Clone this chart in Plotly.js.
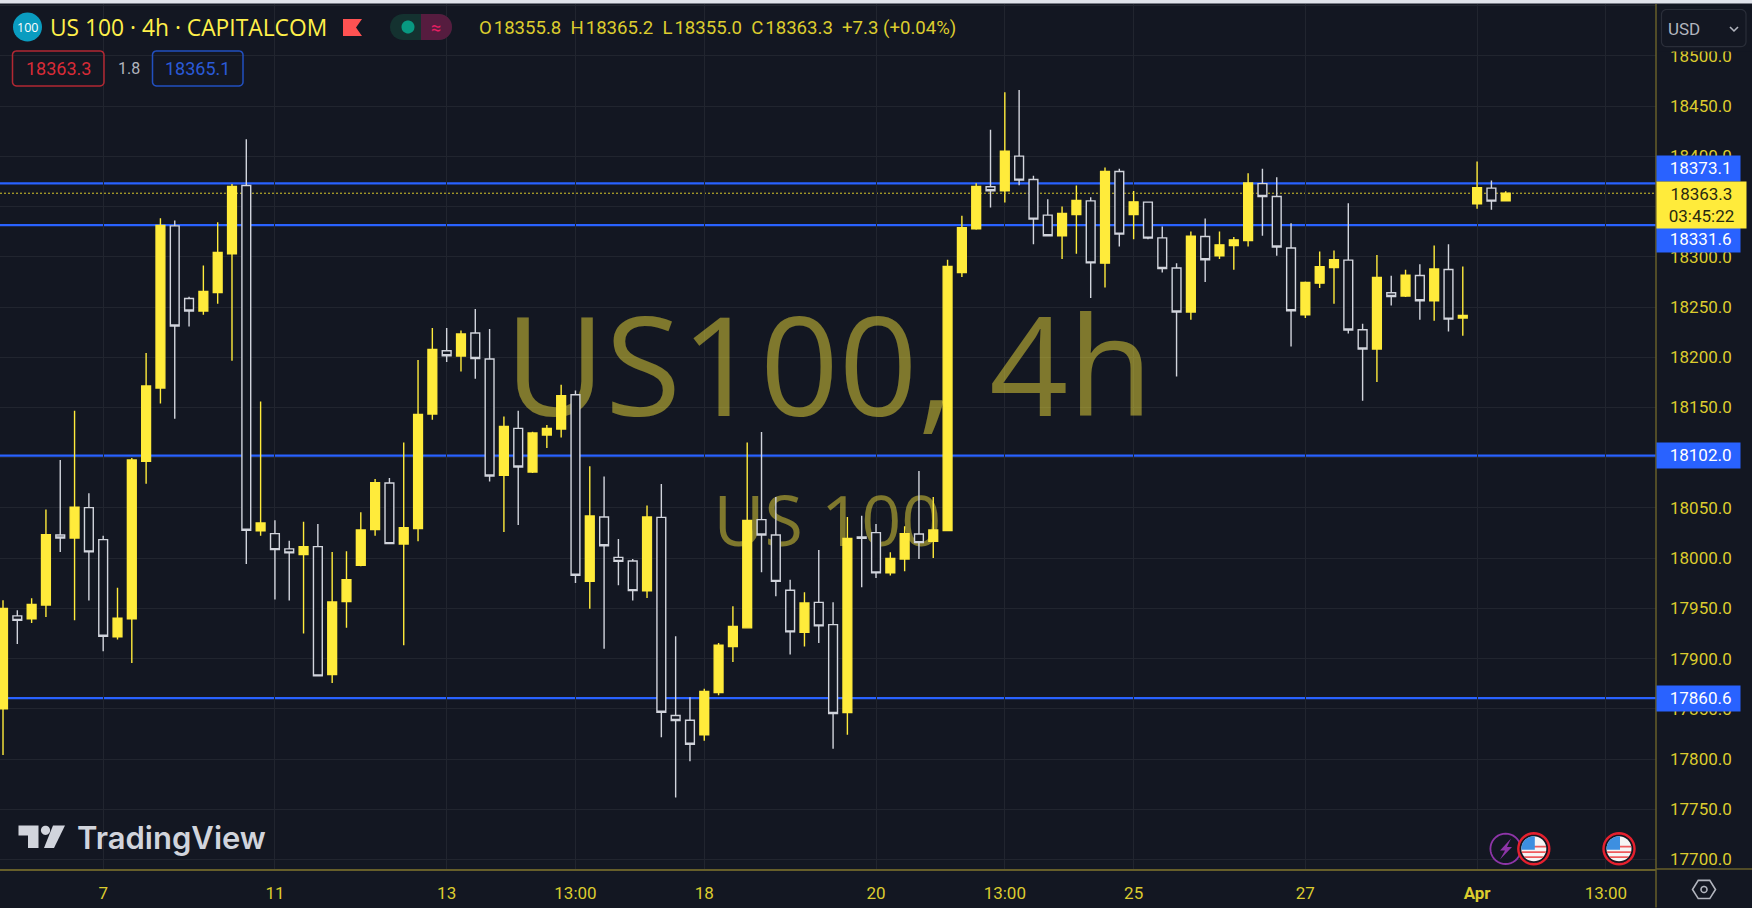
<!DOCTYPE html>
<html><head><meta charset="utf-8">
<script src="https://cdn.plot.ly/plotly-3.0.1.min.js"></script>
<style>html,body{margin:0;padding:0;background:#131722;overflow:hidden}#c{width:1752px;height:908px}</style>
</head><body><div id="c"></div>
<script>
const opens=[17850,17942.5,17939.5,17953.4,18023.1,18020.1,18050.3,18018.4,17921.6,17939.5,18096.3,18169.4,18330.8,18258.5,18246,18264.5,18303,18371,18027.1,18024.4,18009.2,18003.5,18011.5,17884.1,17956.7,17992.8,18028.4,18074.8,18014.1,18029.4,18143.5,18206.5,18201.2,18224.1,18198.2,18082.4,18129.2,18085.8,18122.6,18128.6,18162.7,17976.9,18041,18000.8,17997.2,17967.4,18040.6,17843.3,17838.6,17824.1,17866.2,17912,17930.6,18038.3,18023.1,17968,17926.2,17956,17933.8,17846.3,18021.1,18025.4,17985.3,17999.2,18024.1,18016.7,18027.4,18284.4,18327.9,18369.7,18365.7,18400.2,18376.9,18341.5,18320.9,18342.1,18355.7,18293.7,18384.9,18342.1,18354.4,18318.9,18288.8,18245,18320.2,18301,18311.2,18316.2,18372.9,18360,18308.7,18242.3,18273.8,18289.4,18296.7,18227.4,18208.2,18264.2,18260.9,18281.4,18256.2,18287.4,18239,18352.7,18368.4,18355.8];
const highs=[17958,17948,17960,18048.3,18097.7,18146.8,18064.5,18022.4,17970.4,18099.7,18204.2,18338.5,18336.1,18260.2,18291.3,18334.5,18372.6,18417.1,18156,18037.6,18017.4,18036.3,18034,18006.2,18006.8,18045.6,18078.8,18079.8,18115.2,18197.2,18229.1,18229.1,18226.7,18248,18228.1,18141.1,18146.8,18125.9,18132.5,18172.6,18167,18091.4,18081.4,18019.1,17999.2,18052.5,18073.8,17922.2,17861.5,17869.9,17915.6,17952.1,18115.2,18125.6,18060.9,17978.6,17966,18008.2,17956,18041,18042.3,18034,18005.8,18031.7,18086.8,18060.9,18297,18340.8,18373.3,18426.4,18463.9,18466.2,18380.6,18357.4,18350.1,18371,18359.4,18388.9,18387.6,18365.4,18354.7,18330.2,18293.7,18325.2,18338.1,18325.2,18319.6,18383.3,18387.6,18379.3,18333.5,18275.4,18305.3,18306.3,18353.4,18233.3,18301.7,18281.1,18287.1,18292.7,18311.2,18312.6,18290.4,18394.8,18375.9,18365.2];
const lows=[17804,17914.6,17935.5,17941.5,18006.2,17938.1,17957.7,17907.3,17918.9,17895.7,18074.1,18154,18138.8,18230.7,18242.3,18253.2,18196.5,17994.2,18022.4,17958.7,17957.7,17924.9,17882.8,17875.8,17930.6,17991.8,18022.4,18014.4,17913.2,18016.7,18137.8,18195.2,18185.9,18178.6,18076.4,18026.1,18033,18084.8,18109.7,18120.2,17975.3,17949.5,17909.7,17973,17957.7,17960.4,17821.7,17761.7,17797.8,17818.1,17863.5,17896.7,17930,17985.9,17962,17904,17912,17915.6,17810.2,17824.1,17971,17980.3,17982.6,17986.9,17999.2,18000.2,18027,18279.8,18327,18349.1,18354,18371.3,18312.6,18320.5,18297.7,18303,18258.9,18269.5,18310.3,18317.6,18317.6,18284.4,18180.9,18237.3,18274.8,18297.7,18287.1,18310.3,18320.9,18301,18210.8,18239,18268.9,18253.2,18223.7,18156.7,18175.3,18251.5,18260,18237.3,18236.3,18225.7,18221.4,18347.8,18346.8,18355];
const closes=[17950,17938,17954,18023.4,18020.1,18050.6,18006.2,17922.2,17940.1,18097.7,18171.4,18331.1,18231.1,18246,18265.5,18304.3,18370,18027.7,18035,18008.5,18005.2,18011.5,17882.8,17956.4,17978.6,18028.1,18075.1,18014.4,18030.4,18143.1,18207.8,18201.5,18223.1,18198.8,18081.8,18131.2,18090.8,18124.6,18129.2,18161.7,17982.9,18042,18012.4,17996.8,17967.7,18041,17846.6,17838.3,17814.7,17867.2,17913.2,17931.9,18037.6,18023.1,17976.9,17926.6,17955.4,17932.6,17845.3,18019.7,18019.7,17985.3,17999.8,18024.4,18015.4,18028.1,18290.4,18328.9,18370,18365.7,18405.2,18376.3,18337.5,18320.9,18343.1,18356,18294,18384.9,18322.6,18354.7,18318.6,18288.4,18245,18320.6,18297,18311.9,18316.9,18373.6,18360,18309.7,18246.3,18274.4,18290.1,18297,18227.1,18208.2,18279.4,18260.5,18281.8,18256.2,18287.8,18238,18241.6,18368.7,18355.4,18363.3];
const candleIndex=opens.map((_,i)=>i);
const xTickIndex=[7,19,31,40,49,61,70,79,91,103,112];
const xTickLabels=['7','11','13','13:00','18','20','13:00','25','27','<b>Apr</b>','13:00'];
const levelPrices=[18373.1,18331.6,18102.0,17860.6];
const lastPrice=18363.3;
const countdown='03:45:22';
const bidPrice='18363.3', askPrice='18365.1', spread='1.8';
const ohlcText='O\u200a18355.8  H\u200a18365.2  L\u200a18355.0  C\u200a18363.3  +7.3 (+0.04%)';

const W=1752,H=908,L=0,R=1656,T=4,B=869.5;
const X=p=>(p-L)/(R-L), Y=p=>1-(p-T)/(B-T);
const FONT='Roboto, sans-serif';
const BG='#131722', TICK='#dccc2e', AXIS='#675f2a', BLUE='#2962ff', YEL='#ffeb3b';
const xr=[-0.21,115.5], yr=[17690.5,18551.7];

function poly(pts,close=true){return 'M'+pts.map(p=>X(p[0]).toFixed(5)+','+Y(p[1]).toFixed(5)).join('L')+(close?'Z':'');}
function circ(cx,cy,r,a0=0,a1=360){const o=[];for(let a=a0;a<=a1;a+=10){const t=a*Math.PI/180;o.push([cx+r*Math.cos(t),cy+r*Math.sin(t)]);}return o;}
function rrect(x0,y0,x1,y1,r){const o=[];const c=[[x1-r,y0+r,-90],[x1-r,y1-r,0],[x0+r,y1-r,90],[x0+r,y0+r,180]];c.forEach(k=>{for(let a=0;a<=90;a+=15){const t=(k[2]+a)*Math.PI/180;o.push([k[0]+r*Math.cos(t),k[1]+r*Math.sin(t)]);}});return o;}
const sh=(path,fill,line,w)=>({type:'path',xref:'paper',yref:'paper',path,fillcolor:fill||'rgba(0,0,0,0)',line:{color:line||'rgba(0,0,0,0)',width:w||0},layer:'above'});
const hl=(x0,y0,x1,y1,c,w)=>({type:'line',xref:'paper',yref:'paper',x0:X(x0),x1:X(x1),y0:Y(y0),y1:Y(y1),line:{color:c,width:w||1},layer:'above'});
const rect=(x0,y0,x1,y1,c)=>({type:'rect',xref:'paper',yref:'paper',x0:X(x0),x1:X(x1),y0:Y(y0),y1:Y(y1),fillcolor:c,line:{width:0},layer:'above'});

const shapes=[];
levelPrices.forEach(p=>shapes.push({type:'line',xref:'x2',yref:'y2',x0:xr[0],x1:xr[1],y0:p,y1:p,line:{color:BLUE,width:2.2},layer:'below'}));
shapes.push({type:'line',xref:'x2',yref:'y2',x0:xr[0],x1:xr[1],y0:lastPrice,y1:lastPrice,line:{color:'#d6c62c',width:1,dash:'2px,2px'},layer:'below'});
shapes.push(rect(0,0,W,3.5,'#e0e3eb'));
shapes.push(hl(R,B,W,B,AXIS,1.5));
shapes.push(hl(R,T,R,H,AXIS,1.5));
// symbol logo, flag, pill
shapes.push(sh(poly(circ(27.5,27,14.5)),'#0a9cc0'));
shapes.push(sh(poly([[343,19],[362,19],[356,27.5],[362,36],[343,36]]),'#ff5252'));
shapes.push(sh(poly(rrect(390,14,452,40,13)),'#143230'));
shapes.push(sh(poly([[421,14],[439,14]].concat(circ(439,27,13,-90,90)).concat([[421,40]])),'#561c3f'));
shapes.push(sh(poly(circ(408,27,6.5)),'#089981'));
// bid/ask boxes
shapes.push(sh(poly(rrect(12.5,51,104,86,4)),'rgba(0,0,0,0)','#b22833',1.5));
shapes.push(sh(poly(rrect(152.5,51,243,86,4)),'rgba(0,0,0,0)','#2250c0',1.5));
// USD box
shapes.push(rect(R+1,T,W,51.5,BG));
shapes.push(sh(poly(rrect(1661.5,9.5,1746,46.7,5)),BG,'#2a2e39',1.2));
shapes.push(sh(poly([[1730,27],[1734,31],[1738,27]],false),null,'#b2b5be',1.6));
// TradingView mark
shapes.push(sh(poly([[18.5,826],[38.5,826],[38.5,848.5],[28,848.5],[28,836],[18.5,836]]),'#d1d4dc'));
shapes.push(sh(poly(circ(45.5,830.8,4.6)),'#d1d4dc'));
shapes.push(sh(poly([[53,826],[65,826],[54,848.5],[44,848.5]]),'#d1d4dc'));
// event icons
function flag(cx,cy){
  shapes.push(sh(poly(circ(cx,cy,15.5)),BG,'#e5202e',2.4));
  shapes.push(sh(poly(circ(cx,cy,12.5)),'#f5f5f5'));
  [[-3,1.6],[2.5,1.8],[7.5,1.6]].forEach(s=>{const y0=s[0],y1=s[0]+s[1];const w0=Math.sqrt(156-y0*y0),w1=Math.sqrt(156-y1*y1);
    const full=y0>=1;
    shapes.push(sh(poly([[cx+(full?-w0:0),cy+y0],[cx+w0,cy+y0],[cx+w1,cy+y1],[cx+(full?-w1:0),cy+y1]]),'#ee5a5c'));});
  shapes.push(sh(poly(circ(cx,cy,12.5,180,270).concat([[cx+1,cy-12.4],[cx+1,cy+1],[cx-12.4,cy+1]])),'#3d8fe0'));
}
shapes.push(sh(poly(circ(1505.6,849.3,15.2)),BG,'#8e35a8',1.8));
shapes.push(sh(poly([[1511,839],[1500,851],[1505,851],[1500,860],[1512,847.5],[1507,847.5]]),'#8e35a8'));
flag(1533.8,849.3); flag(1619,849.3);
// gear
const hex=[];for(let a=0;a<360;a+=60){const t=a*Math.PI/180;hex.push([1704+11.5*Math.cos(t),890+10.5*Math.sin(t)]);}
shapes.push(sh(poly(hex),null,'#b2b5be',1.6));
shapes.push(sh(poly(circ(1704,890,3)),null,'#b2b5be',1.5));

const priceLabel=(txt,y,shift)=>({xref:'paper',yref:'y',x:1,y,yshift:shift,xanchor:'left',yanchor:'middle',text:'\u00a0'+txt,showarrow:false,
  bgcolor:BLUE,width:83,height:24.5,align:'center',borderpad:0,font:{family:FONT,size:17,color:'#ffffff'}});
const paperText=(txt,px,py,size,color,anchor,family,extra)=>Object.assign({xref:'paper',yref:'paper',x:X(px),y:Y(py),xanchor:anchor||'left',yanchor:'middle',text:txt,showarrow:false,font:{family:family||FONT,size,color}},extra||{});

const annotations=[
  priceLabel(levelPrices[0].toFixed(1),levelPrices[0],15.2),
  priceLabel(levelPrices[1].toFixed(1),levelPrices[1],-14.3),
  priceLabel(levelPrices[2].toFixed(1),levelPrices[2],0),
  priceLabel(levelPrices[3].toFixed(1),levelPrices[3],0),
  {xref:'paper',yref:'y',x:1,y:lastPrice,yshift:-11.3,xanchor:'left',yanchor:'middle',text:lastPrice.toFixed(1)+'<br>'+countdown,showarrow:false,
   bgcolor:YEL,width:89,height:46,align:'center',borderpad:0,font:{family:FONT,size:17,color:'#2a2a10'}},
  paperText('100',27.5,27.5,12.5,'#ffffff','center','"Open Sans", sans-serif'),
  paperText('US 100 · 4h · CAPITALCOM',48,27.5,22.8,'#fff04a','left','"Open Sans", sans-serif'),
  paperText('≈',436,27.5,18,'#e91e63','center'),
  paperText(ohlcText,477,28,18.6,TICK,'left'),
  paperText(bidPrice,58,69,18,'#d92b37','center'),
  paperText(spread,129,69,16,'#b2b5be','center'),
  paperText(askPrice,197.5,69,18,'#2a5ad8','center'),
  paperText('USD',1684,29,17,'#b2b5be','center'),
  paperText('TradingView',75,838,31,'#d1d4dc','left','Inter, sans-serif',undefined),
];
annotations[annotations.length-1].font.weight=600;

const watermark={type:'scatter',mode:'text',x:[57.7,57.6],y:[18176,18030],text:['US100, 4h','US 100'],
  textposition:'middle center',hoverinfo:'skip',cliponaxis:false,showlegend:false,
  textfont:{family:'"Open Sans", sans-serif',size:[138,70],color:'rgba(255,235,59,0.46)'},xaxis:'x',yaxis:'y'};
const candles={type:'candlestick',x:candleIndex,open:opens,high:highs,low:lows,close:closes,xaxis:'x2',yaxis:'y2',hoverinfo:'skip',showlegend:false,
  whiskerwidth:0,
  increasing:{line:{color:YEL,width:1.4},fillcolor:YEL},
  decreasing:{line:{color:'#d1d4dc',width:1.4},fillcolor:BG}};

const layout={
  width:W,height:H,paper_bgcolor:BG,plot_bgcolor:BG,showlegend:false,dragmode:false,boxgap:0.12,
  margin:{l:L,r:W-R,t:T,b:H-B,pad:0},
  xaxis:{range:xr,tickmode:'array',tickvals:xTickIndex,ticktext:xTickLabels,showgrid:true,gridcolor:'#21252f',gridwidth:1,zeroline:false,
    showline:true,linecolor:AXIS,linewidth:1.5,ticks:'',ticklabelstandoff:8,tickfont:{family:FONT,size:17,color:TICK},rangeslider:{visible:false},fixedrange:true},
  yaxis:{range:yr,side:'right',dtick:50,tick0:17700,tickformat:'.1f',showgrid:true,gridcolor:'#21252f',gridwidth:1,zeroline:false,
    showline:false,ticks:'',ticklabelstandoff:13,tickfont:{family:FONT,size:17,color:TICK},fixedrange:true},
  xaxis2:{range:xr,overlaying:'x',visible:false,rangeslider:{visible:false},fixedrange:true},
  yaxis2:{range:yr,overlaying:'y',visible:false,fixedrange:true},
  shapes,annotations
};
Plotly.newPlot('c',[watermark,candles],layout,{staticPlot:true,displayModeBar:false});
</script></body></html>
